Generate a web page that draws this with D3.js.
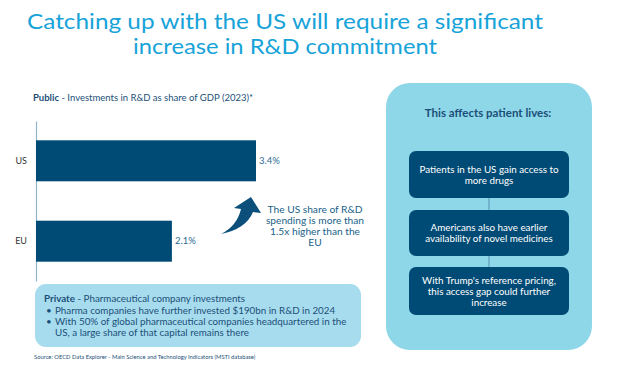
<!DOCTYPE html>
<html>
<head>
<meta charset="utf-8">
<script src="https://cdn.jsdelivr.net/npm/d3@7"></script>
<style>
  body { margin: 0; background: #fff; }
  text { font-family: Lato, "Open Sans", sans-serif; }
</style>
</head>
<body>
<div id="chart"></div>
<script>
// Data
const regions = ["US", "EU"];
const rdShare = [3.4, 2.1];
const valueLabels = ["3.4%", "2.1%"];
const titleLines = ["Catching up with the US will require a significant", "increase in R&D commitment"];
const noteLines = ["The US share of R&D", "spending is more than", "1.5x higher than the", "EU"];
const impactLines = [
  ["Patients in the US gain access to", "more drugs"],
  ["Americans also have earlier", "availability of novel medicines"],
  ["With Trump's reference pricing,", "this access gap could further", "increase"]
];
const privateLines = [
  ["Pharma companies have further invested $190bn in R&D in 2024"],
  ["With 50% of global pharmaceutical companies headquartered in the", "US, a large share of that capital remains there"]
];

const W = 617, H = 366;
const navy = "#004b75", ink = "#1c4f78";

const svg = d3.select("#chart").append("svg")
  .attr("width", W)
  .attr("height", H);

// Title (stretched to the width the original uses)
const titleWidths = [516, 304];
svg.append("g").selectAll("text")
  .data(titleLines)
  .enter().append("text")
  .attr("x", 285)
  .attr("y", (d, i) => 29 + i * 25)
  .attr("text-anchor", "middle")
  .attr("textLength", (d, i) => titleWidths[i])
  .attr("lengthAdjust", "spacingAndGlyphs")
  .style("font-size", "22px")
  .style("fill", "#17a3d9")
  .text(d => d);

// Subtitle
const sub = svg.append("text")
  .attr("x", 33)
  .attr("y", 101)
  .style("font-size", "9.5px")
  .style("fill", ink);
sub.append("tspan").style("font-weight", "bold").text("Public");
sub.append("tspan").text(" - Investments in R&D as share of GDP (2023)*");

// Scales
const x = d3.scaleLinear()
  .domain([0, 3.4])
  .range([36, 256]);

const y = d3.scaleBand()
  .domain(regions)
  .range([121, 281])
  .paddingInner(0.49)
  .paddingOuter(0.24);

// Axis
const yAxis = svg.append("g")
  .attr("transform", "translate(36,0)")
  .call(d3.axisLeft(y).tickSize(0).tickPadding(9));
yAxis.select(".domain").attr("stroke", "#8fb4cc").attr("stroke-width", 1.2);
yAxis.selectAll("text")
  .style("font-family", "Lato, sans-serif")
  .style("font-size", "9px")
  .style("fill", "#333");

// Bars
const rows = regions.map((r, i) => ({ region: r, value: rdShare[i], label: valueLabels[i] }));

svg.selectAll("rect.bar")
  .data(rows)
  .enter().append("rect")
  .attr("class", "bar")
  .attr("x", x(0))
  .attr("y", d => y(d.region))
  .attr("width", d => x(d.value) - x(0))
  .attr("height", y.bandwidth())
  .attr("fill", navy);

svg.selectAll("text.val")
  .data(rows)
  .enter().append("text")
  .attr("class", "val")
  .attr("x", d => x(d.value) + 3)
  .attr("y", d => y(d.region) + y.bandwidth() / 2 + 3)
  .style("font-size", "9.5px")
  .style("fill", "#2e6b94")
  .text(d => d.label);

// Curved arrow
svg.append("path")
  .attr("d", "M221,234 Q246,229 253,212 L261,213 L251,197 L234,208 L241,209 Q237,226 221,234 Z")
  .attr("fill", "#0b4f7a");

svg.append("g").selectAll("text")
  .data(noteLines)
  .enter().append("text")
  .attr("x", 315)
  .attr("y", (d, i) => 213 + i * 11)
  .attr("text-anchor", "middle")
  .style("font-size", "10.2px")
  .style("fill", "#215f8b")
  .text(d => d);

// Private box
svg.append("rect")
  .attr("x", 35).attr("y", 284)
  .attr("width", 326).attr("height", 63)
  .attr("rx", 11)
  .attr("fill", "#a7dcee");

const priv = svg.append("text")
  .attr("x", 44)
  .attr("y", 302)
  .style("font-size", "9.8px")
  .style("fill", ink);
priv.append("tspan").style("font-weight", "bold").text("Private");
priv.append("tspan").text(" - Pharmaceutical company investments");

let line = 0;
privateLines.forEach(b => {
  b.forEach((t, j) => {
    const ty = 314 + line * 11;
    if (j === 0) {
      svg.append("text").attr("x", 46).attr("y", ty)
        .style("font-size", "9.8px").style("fill", ink).text("•");
    }
    svg.append("text").attr("x", 55).attr("y", ty)
      .style("font-size", "9.8px").style("fill", ink).text(t);
    line++;
  });
});

// Source
svg.append("text")
  .attr("x", 34)
  .attr("y", 359)
  .style("font-size", "5.8px")
  .style("fill", ink)
  .text("Source: OECD Data Explorer - Main Science and Technology Indicators (MSTI database)");

// Right panel
svg.append("rect")
  .attr("x", 386).attr("y", 83)
  .attr("width", 206).attr("height", 267)
  .attr("rx", 24)
  .attr("fill", "#8ed7e8");

svg.append("text")
  .attr("x", 488)
  .attr("y", 117)
  .attr("text-anchor", "middle")
  .style("font-size", "11.5px")
  .style("font-weight", "bold")
  .style("fill", ink)
  .text("This affects patient lives:");

const boxTops = [151, 210, 267];
const boxH = [47, 46, 48];

svg.append("line")
  .attr("x1", 489).attr("x2", 489)
  .attr("y1", 198).attr("y2", 267)
  .attr("stroke", "#5a8fb0").attr("stroke-width", 1);

impactLines.forEach((lines, i) => {
  svg.append("rect")
    .attr("x", 409).attr("y", boxTops[i])
    .attr("width", 160).attr("height", boxH[i])
    .attr("rx", 7)
    .attr("fill", navy);
  const cy = boxTops[i] + boxH[i] / 2;
  lines.forEach((t, j) => {
    svg.append("text")
      .attr("x", 489)
      .attr("y", cy + (j - (lines.length - 1) / 2) * 11 + 3.5)
      .attr("text-anchor", "middle")
      .style("font-size", "9.8px")
      .style("fill", "#fff")
      .text(t);
  });
});
</script>
</body>
</html>
